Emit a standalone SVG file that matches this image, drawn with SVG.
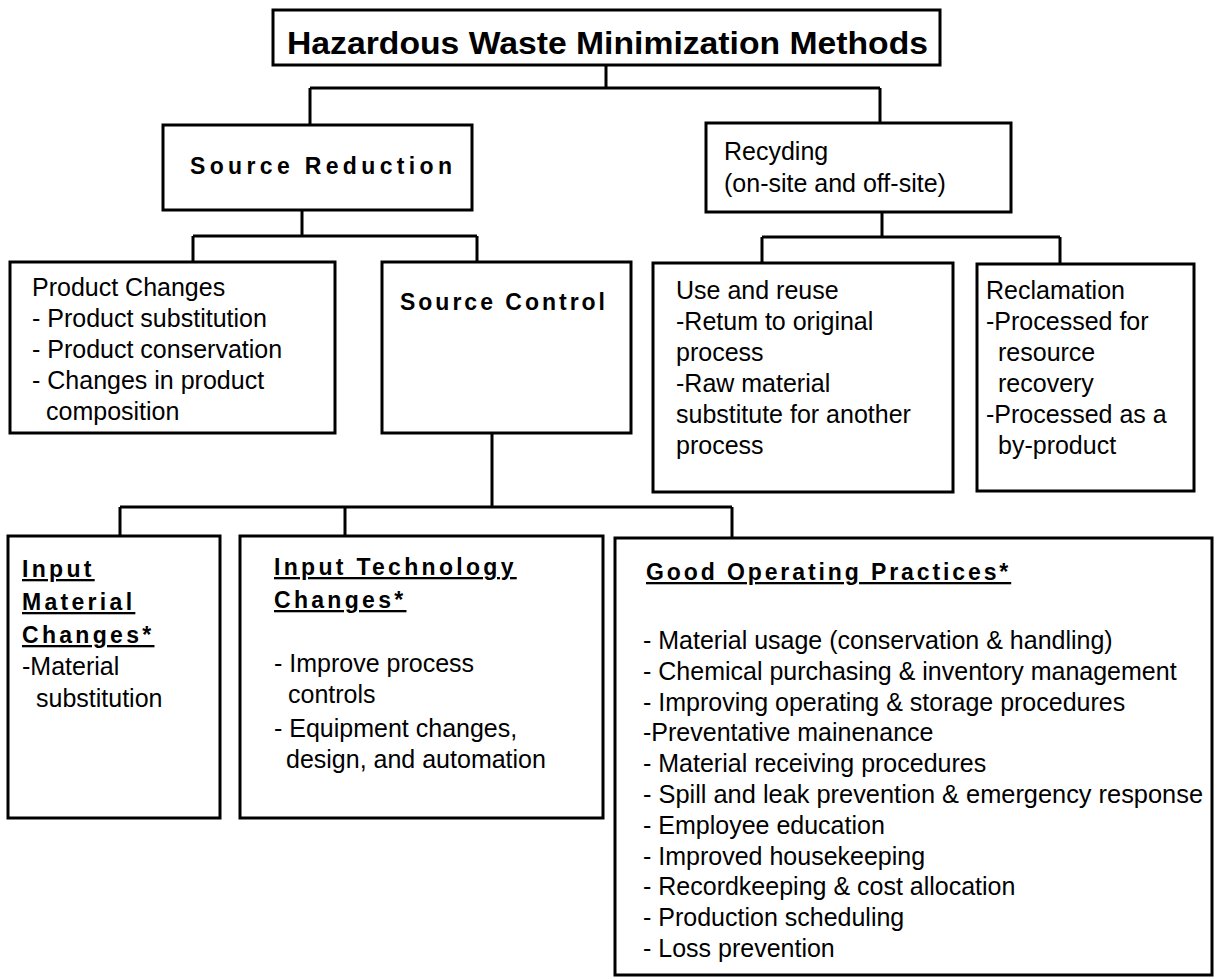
<svg xmlns="http://www.w3.org/2000/svg" width="1224" height="979" viewBox="0 0 1224 979">
<style>
rect.box{fill:#fff;stroke:#000;stroke-width:3}
.c path{fill:none;stroke:#000;stroke-width:3}
text{font-family:"Liberation Sans",Arial,Helvetica,sans-serif;fill:#000}
.t{font-size:25px}
.h{font-size:23px;font-weight:bold}
.hu{font-size:23px;font-weight:bold;letter-spacing:3.3px;text-decoration:underline}
.title{font-size:31px;font-weight:bold}
</style>
<rect x="0" y="0" width="1224" height="979" fill="#fff"/>
<g class="c" id="connectors">
<path d="M606,65 V88 M310,88 H880 M310,88 V125 M880,88 V123"/>
<path d="M302,210 V236 M193,236 H477 M193,236 V262 M477,236 V262"/>
<path d="M882,212 V237 M762,237 H1060 M762,237 V263 M1060,237 V264"/>
<path d="M492,433 V507 M120,507 H732 M120,507 V536 M345,507 V536 M732,507 V538"/>
</g>
<g id="title">
<rect class="box" x="273" y="10" width="667" height="55"/>
<text class="title" x="287" y="54" textLength="641" lengthAdjust="spacingAndGlyphs">Hazardous Waste Minimization Methods</text>
</g>
<g id="source-reduction">
<rect class="box" x="163" y="125" width="309" height="85"/>
<text class="h" x="190" y="174" textLength="262" lengthAdjust="spacing">Source Reduction</text>
</g>
<g id="recycling">
<rect class="box" x="706" y="123" width="305" height="89"/>
<text class="t" x="724" y="160">Recyding</text>
<text class="t" x="724" y="192">(on-site and off-site)</text>
</g>
<g id="product-changes">
<rect class="box" x="10" y="262" width="325" height="171"/>
<text class="t" x="32" y="296">Product Changes</text>
<text class="t" x="32" y="327">- Product substitution</text>
<text class="t" x="32" y="358">- Product conservation</text>
<text class="t" x="32" y="389">- Changes in product</text>
<text class="t" x="46" y="420">composition</text>
</g>
<g id="source-control">
<rect class="box" x="382" y="262" width="249" height="171"/>
<text class="h" x="400" y="310" textLength="205" lengthAdjust="spacing">Source Control</text>
</g>
<g id="use-reuse">
<rect class="box" x="653" y="263" width="300" height="229"/>
<text class="t" x="676" y="299">Use and reuse</text>
<text class="t" x="676" y="330">-Retum to original</text>
<text class="t" x="676" y="361">process</text>
<text class="t" x="676" y="392">-Raw material</text>
<text class="t" x="676" y="423">substitute for another</text>
<text class="t" x="676" y="454">process</text>
</g>
<g id="reclamation">
<rect class="box" x="977" y="264" width="217" height="227"/>
<text class="t" x="986" y="299">Reclamation</text>
<text class="t" x="986" y="330">-Processed for</text>
<text class="t" x="998" y="361">resource</text>
<text class="t" x="998" y="392">recovery</text>
<text class="t" x="986" y="423">-Processed as a</text>
<text class="t" x="998" y="454">by-product</text>
</g>
<g id="input-material">
<rect class="box" x="8" y="536" width="212" height="282"/>
<text class="hu" x="22" y="577">Input</text>
<text class="hu" x="22" y="610">Material</text>
<text class="hu" x="22" y="643">Changes*</text>
<text class="t" x="22" y="675">-Material</text>
<text class="t" x="36" y="707">substitution</text>
</g>
<g id="input-technology">
<rect class="box" x="240" y="536" width="363" height="282"/>
<text class="hu" x="274" y="575">Input Technology</text>
<text class="hu" x="274" y="608">Changes*</text>
<text class="t" x="274" y="672">- Improve process</text>
<text class="t" x="288" y="703">controls</text>
<text class="t" x="274" y="737">- Equipment changes,</text>
<text class="t" x="286" y="768">design, and automation</text>
</g>
<g id="good-operating">
<rect class="box" x="615" y="538" width="597" height="437"/>
<text class="hu" x="646" y="580" style="letter-spacing:2.9px">Good Operating Practices*</text>
<text class="t" x="643" y="649">- Material usage (conservation &amp; handling)</text>
<text class="t" x="643" y="680">- Chemical purchasing &amp; inventory  management</text>
<text class="t" x="643" y="711">- Improving operating &amp; storage procedures</text>
<text class="t" x="643" y="741">-Preventative mainenance</text>
<text class="t" x="643" y="772">- Material receiving procedures</text>
<text class="t" x="643" y="803" textLength="560" lengthAdjust="spacingAndGlyphs">- Spill and leak prevention &amp; emergency response</text>
<text class="t" x="643" y="834">- Employee education</text>
<text class="t" x="643" y="865">- Improved housekeeping</text>
<text class="t" x="643" y="895">- Recordkeeping &amp; cost allocation</text>
<text class="t" x="643" y="926">- Production scheduling</text>
<text class="t" x="643" y="957">- Loss prevention</text>
</g>
</svg>
